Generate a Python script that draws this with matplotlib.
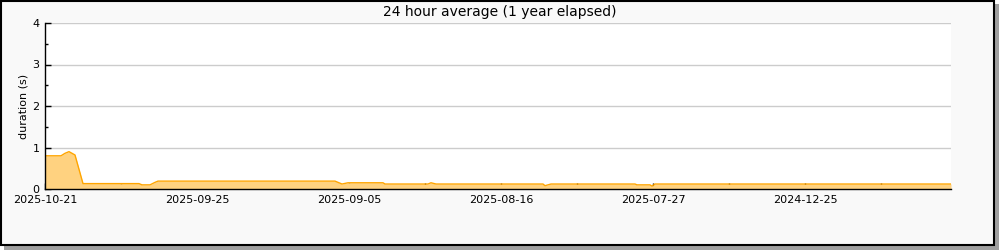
import matplotlib
matplotlib.use("Agg")
import matplotlib.pyplot as plt
from matplotlib.patches import Rectangle

# sample index (4 px per sample) and 24h average duration in seconds
samples = [0, 4, 5, 6, 6.75, 7.5, 9.5, 23.5, 24.25, 26.25, 27.5, 28.25,
           72.5, 74.25, 75.75, 84.5, 85, 95.75, 96.5, 97.75, 124.5, 125,
           126.5, 147.5, 148, 151.25, 151.75, 152.5, 226.5]
duration = [0.80, 0.80, 0.86, 0.90, 0.86, 0.82, 0.13, 0.13, 0.10, 0.10, 0.16, 0.19,
            0.19, 0.12, 0.15, 0.15, 0.12, 0.12, 0.15, 0.12, 0.12, 0.08,
            0.12, 0.12, 0.10, 0.10, 0.07, 0.12, 0.12]

tick_pos = [0, 19, 38, 57, 76, 95, 114, 133, 152, 171, 190, 209]
tick_labels = ["2025-10-21", "", "2025-09-25", "", "2025-09-05", "",
               "2025-08-16", "", "2025-07-27", "", "2024-12-25", ""]

fig = plt.figure(figsize=(10, 2.5), dpi=100, facecolor="white")

# frame with a drop shadow
fig.patches.append(Rectangle((0.004, 0.0), 0.995, 0.984, transform=fig.transFigure,
                             facecolor="#a0a0a0", edgecolor="none", zorder=-2))
fig.patches.append(Rectangle((0.001, 0.02), 0.993, 0.976, transform=fig.transFigure,
                             facecolor="#f9f9f9", edgecolor="black", linewidth=1.5, zorder=-1))

ax = fig.add_axes([0.045, 0.244, 0.906, 0.664])
ax.set_facecolor("white")

ax.fill_between(samples, duration, 0, color="#ffd280", linewidth=0)
ax.plot(samples, duration, color="#ffa500", linewidth=1)

ax.set_xlim(0, 226.5)
ax.set_ylim(0, 4)
ax.set_yticks([0, 1, 2, 3, 4])
ax.set_yticks([0.5, 1.5, 2.5, 3.5], minor=True)
ax.set_xticks(tick_pos)
ax.set_xticklabels(tick_labels)

ax.grid(axis="y", color="#cccccc", linewidth=1)
ax.set_axisbelow(True)
for s in ["top", "right"]:
    ax.spines[s].set_visible(False)
ax.spines["left"].set_linewidth(1)
ax.spines["bottom"].set_linewidth(1)

ax.tick_params(axis="both", which="major", direction="in", length=4.5, width=1,
               labelsize=8, pad=4)
ax.tick_params(axis="y", which="minor", direction="in", length=2.5, width=1)

ax.set_ylabel("duration (s)", fontsize=8, labelpad=3)
fig.text(0.5, 0.952, "24 hour average (1 year elapsed)", ha="center", va="center",
         fontsize=10)

fig.savefig("out.png", dpi=100, facecolor=fig.get_facecolor())
